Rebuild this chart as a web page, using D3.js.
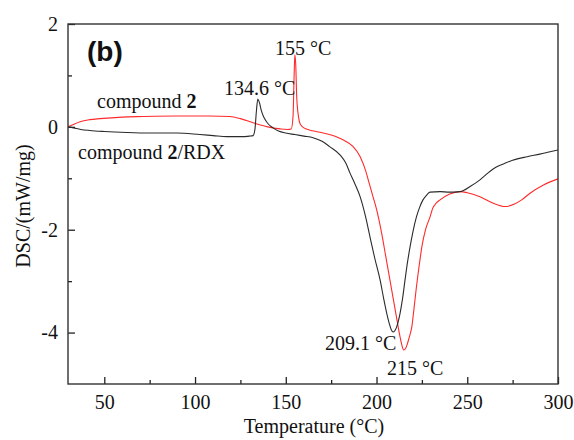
<!DOCTYPE html>
<html>
<head>
<meta charset="utf-8">
<script src="https://cdn.jsdelivr.net/npm/d3@7/dist/d3.min.js"></script>
<style>
  html, body { margin: 0; padding: 0; background: #fff; }
  svg { display: block; }
  text { font-family: "Liberation Serif", "Times New Roman", serif; fill: #111; }
</style>
</head>
<body>
<svg id="chart" width="574" height="440"></svg>
<script>
// DSC traces: temperature (°C) and heat flow (mW/mg)
const pureTemp = [30, 32, 36.6, 42, 47.6, 60, 71, 90, 108, 119, 125, 132, 140, 147, 151, 153, 154, 154.6, 155, 155.5, 156, 157, 158, 160, 163, 168, 175, 182, 187, 191, 194, 196, 198, 200, 203, 205, 207.4, 209.5, 211, 212.5, 213.8, 215, 216, 217, 217.8, 218.6, 219.4, 220.6, 222, 223.5, 225, 227, 229.5, 231, 233, 235, 240, 246, 250, 257, 264, 271, 276, 280, 284.6, 292, 300];
const pureDSC  = [0, 0.03, 0.1, 0.14, 0.16, 0.19, 0.2, 0.21, 0.21, 0.2, 0.16, 0.08, 0.0, -0.04, -0.05, -0.04, 0.2, 1.0, 1.4, 1.2, 0.6, 0.2, 0.05, -0.02, -0.06, -0.1, -0.16, -0.26, -0.38, -0.58, -0.85, -1.1, -1.35, -1.6, -2.1, -2.5, -2.98, -3.4, -3.7, -4.0, -4.22, -4.34, -4.31, -4.22, -4.12, -4.02, -3.9, -3.55, -3.11, -2.7, -2.33, -2.0, -1.75, -1.58, -1.48, -1.42, -1.31, -1.26, -1.28, -1.36, -1.48, -1.55, -1.5, -1.42, -1.29, -1.13, -1.01];

const mixTemp = [30, 33, 37, 42, 50, 62.5, 75, 90, 102.7, 110, 117.6, 125, 130, 132, 133, 133.8, 134.6, 135.5, 136.5, 138, 140, 143, 146, 150, 155, 160, 165, 170, 174, 180, 183, 185.4, 188, 191, 194, 196.4, 199, 202, 204, 205.6, 207, 208.2, 209.1, 210, 211, 212, 213, 214.3, 215.7, 217, 218.5, 220, 222, 223.8, 225.6, 227.5, 229.5, 235, 240, 246, 252, 257, 262, 266, 270, 275, 283, 290, 295, 300];
const mixDSC  = [0, -0.02, -0.05, -0.07, -0.09, -0.11, -0.12, -0.12, -0.15, -0.17, -0.19, -0.19, -0.18, -0.17, -0.05, 0.3, 0.54, 0.47, 0.32, 0.18, 0.07, -0.02, -0.08, -0.12, -0.15, -0.18, -0.21, -0.28, -0.38, -0.55, -0.7, -0.9, -1.1, -1.36, -1.75, -2.14, -2.55, -2.98, -3.35, -3.62, -3.82, -3.95, -3.99, -3.97, -3.9, -3.78, -3.62, -3.35, -2.98, -2.65, -2.33, -2.05, -1.75, -1.56, -1.42, -1.33, -1.27, -1.26, -1.27, -1.26, -1.15, -1.03, -0.88, -0.78, -0.72, -0.65, -0.58, -0.53, -0.49, -0.45];

const xMajorTicks = [50, 100, 150, 200, 250, 300];
const xMinorTicks = [75, 125, 175, 225, 275];
const yMajorTicks = [-4, -2, 0, 2];
const yMinorTicks = [-3, -1, 1];

const seriesColors = { pure: "#ff2a2a", mix: "#2b2b2b" };

const svg = d3.select("#chart");
const plotLeft = 68, plotRight = 558, plotTop = 24, plotBottom = 384;

const x = d3.scaleLinear().domain([30, 300]).range([plotLeft, plotRight]);
const y = d3.scaleLinear().domain([-5, 2]).range([plotBottom, plotTop]);

// minor ticks (inward, short)
svg.append("g")
  .attr("transform", `translate(0,${plotBottom})`)
  .call(d3.axisBottom(x).tickValues(xMinorTicks).tickSize(-4).tickFormat(""))
  .call(g => g.select(".domain").remove())
  .call(g => g.selectAll("line").attr("stroke", "#222").attr("stroke-width", 1.3));
svg.append("g")
  .attr("transform", `translate(${plotLeft},0)`)
  .call(d3.axisLeft(y).tickValues(yMinorTicks).tickSize(-4).tickFormat(""))
  .call(g => g.select(".domain").remove())
  .call(g => g.selectAll("line").attr("stroke", "#222").attr("stroke-width", 1.3));

// major ticks with labels
svg.append("g")
  .attr("transform", `translate(0,${plotBottom})`)
  .call(d3.axisBottom(x).tickValues(xMajorTicks).tickSizeInner(-7).tickSizeOuter(0).tickPadding(11).tickFormat(d => String(d)))
  .call(g => g.select(".domain").remove())
  .call(g => g.selectAll("line").attr("stroke", "#222").attr("stroke-width", 1.3))
  .call(g => g.selectAll("text").attr("font-size", 20).attr("font-family", "Liberation Serif").attr("fill", "#111"));
svg.append("g")
  .attr("transform", `translate(${plotLeft},0)`)
  .call(d3.axisLeft(y).tickValues(yMajorTicks).tickSizeInner(-7).tickSizeOuter(0).tickPadding(10).tickFormat(d => String(d)))
  .call(g => g.select(".domain").remove())
  .call(g => g.selectAll("line").attr("stroke", "#222").attr("stroke-width", 1.3))
  .call(g => g.selectAll("text").attr("font-size", 20).attr("font-family", "Liberation Serif").attr("fill", "#111"));

// clip region for the traces
svg.append("clipPath").attr("id", "plot-clip")
  .append("rect").attr("x", plotLeft).attr("y", plotTop).attr("width", plotRight - plotLeft).attr("height", plotBottom - plotTop);

const line = d3.line().x(d => x(d[0])).y(d => y(d[1])).curve(d3.curveMonotoneX);

svg.append("path")
  .datum(pureTemp.map((t, i) => [t, pureDSC[i]]))
  .attr("d", line)
  .attr("fill", "none")
  .attr("stroke", seriesColors.pure)
  .attr("stroke-width", 1.1)
  .attr("clip-path", "url(#plot-clip)");

svg.append("path")
  .datum(mixTemp.map((t, i) => [t, mixDSC[i]]))
  .attr("d", line)
  .attr("fill", "none")
  .attr("stroke", seriesColors.mix)
  .attr("stroke-width", 1.1)
  .attr("clip-path", "url(#plot-clip)");

// frame
svg.append("rect")
  .attr("x", plotLeft).attr("y", plotTop).attr("width", plotRight - plotLeft).attr("height", plotBottom - plotTop)
  .attr("fill", "none").attr("stroke", "#333").attr("stroke-width", 1.4);

// axis titles
svg.append("text")
  .attr("x", (plotLeft + plotRight) / 2 + 1).attr("y", 433)
  .attr("text-anchor", "middle").attr("font-size", 20)
  .text("Temperature (°C)");
svg.append("text")
  .attr("transform", `translate(30,206) rotate(-90)`)
  .attr("text-anchor", "middle").attr("font-size", 20)
  .text("DSC/(mW/mg)");

// panel tag
svg.append("text")
  .attr("x", 87).attr("y", 61)
  .attr("font-weight", "bold").attr("font-size", 28)
  .style("font-family", "'Liberation Sans', Arial, sans-serif")
  .text("(b)");

// series labels
const lab1 = svg.append("text").attr("x", 97).attr("y", 108).attr("font-size", 20);
lab1.append("tspan").text("compound ");
lab1.append("tspan").attr("font-weight", "bold").text("2");

const lab2 = svg.append("text").attr("x", 78).attr("y", 159).attr("font-size", 20);
lab2.append("tspan").text("compound ");
lab2.append("tspan").attr("font-weight", "bold").text("2");
lab2.append("tspan").text("/RDX");

// peak annotations
const peaks = [
  { text: "155 °C", x: 275, y: 55 },
  { text: "134.6 °C", x: 224, y: 95 },
  { text: "209.1 °C", x: 325, y: 350 },
  { text: "215 °C", x: 387, y: 375 }
];
svg.selectAll("text.peak").data(peaks).enter().append("text")
  .attr("class", "peak")
  .attr("x", d => d.x).attr("y", d => d.y)
  .attr("font-size", 20)
  .text(d => d.text);
</script>
</body>
</html>
